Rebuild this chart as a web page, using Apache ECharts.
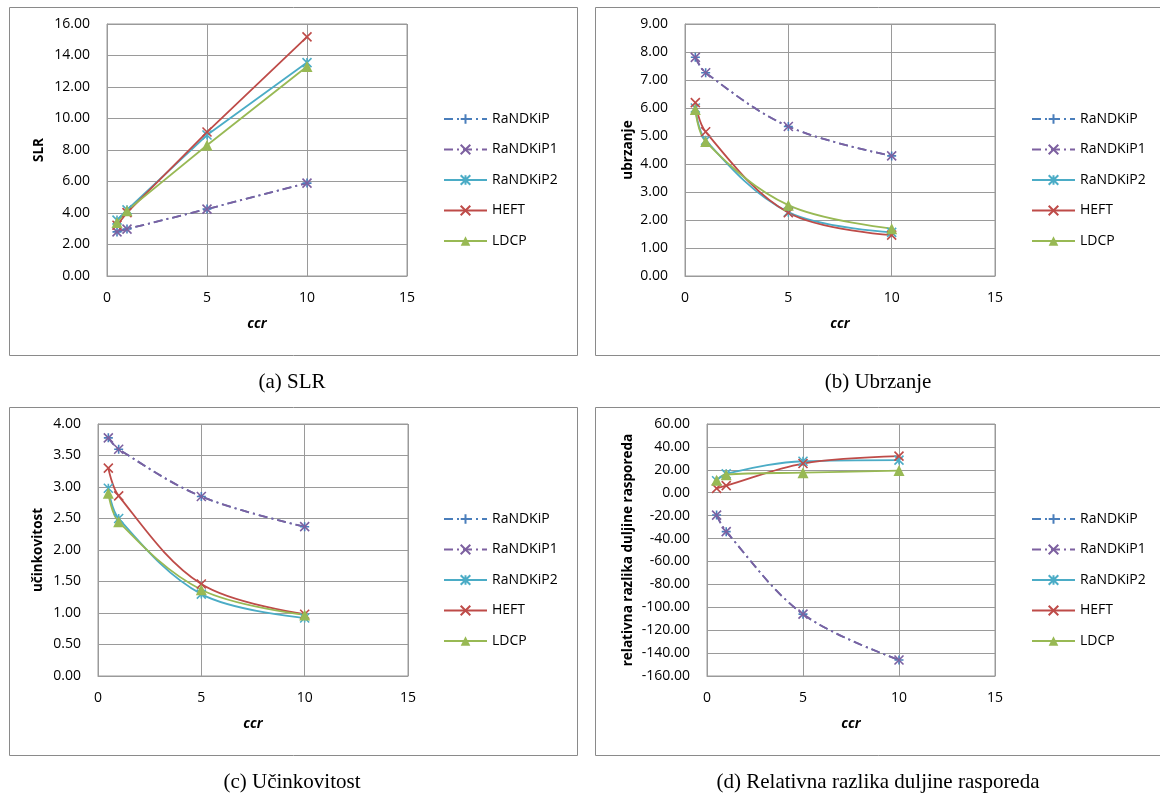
<!DOCTYPE html>
<html><head><meta charset="utf-8">
<script src="https://cdn.jsdelivr.net/npm/echarts@6/dist/echarts.min.js"></script>
<style>html,body{margin:0;padding:0;background:#fff}#c{width:1160px;height:801px}</style>
</head><body><div id="c"></div>
<script>
// ---- data ----
const ccr = [0.5, 1, 5, 10];
const seriesNames = ['RaNDKiP', 'RaNDKiP1', 'RaNDKiP2', 'HEFT', 'LDCP'];

// (a) SLR
const slrRaNDKiP  = [2.80, 2.98, 4.25, 5.90];
const slrRaNDKiP1 = [2.80, 2.98, 4.25, 5.90];
const slrRaNDKiP2 = [3.55, 4.20, 8.95, 13.55];
const slrHEFT     = [3.22, 4.02, 9.14, 15.18];
const slrLDCP     = [3.40, 4.15, 8.30, 13.30];

// (b) Ubrzanje
const ubRaNDKiP  = [7.81, 7.26, 5.34, 4.29];
const ubRaNDKiP1 = [7.81, 7.26, 5.34, 4.29];
const ubRaNDKiP2 = [6.00, 4.85, 2.28, 1.56];
const ubHEFT     = [6.19, 5.15, 2.26, 1.46];
const ubLDCP     = [5.95, 4.80, 2.53, 1.69];

// (c) Ucinkovitost
const ucRaNDKiP  = [3.78, 3.60, 2.85, 2.37];
const ucRaNDKiP1 = [3.78, 3.60, 2.85, 2.37];
const ucRaNDKiP2 = [2.98, 2.50, 1.30, 0.92];
const ucHEFT     = [3.30, 2.86, 1.46, 0.98];
const ucLDCP     = [2.90, 2.45, 1.37, 0.97];

// (d) Relativna razlika duljine rasporeda
const rrRaNDKiP  = [-19.5, -34.0, -106.0, -146.0];
const rrRaNDKiP1 = [-19.5, -34.0, -106.0, -146.0];
const rrRaNDKiP2 = [10.5, 16.5, 27.5, 28.5];
const rrHEFT     = [3.8, 6.2, 25.5, 32.0];
const rrLDCP     = [11.0, 15.8, 17.5, 19.3];

const xTicks = [0, 5, 10, 15];
const yNames = ['SLR', 'ubrzanje', 'učinkovitost', 'relativna razlika duljine rasporeda'];
const captions = ['(a) SLR', '(b) Ubrzanje', '(c) Učinkovitost', '(d) Relativna razlika duljine rasporeda'];

// ---- styling / layout ----
const colors = ['#4A7EBB', '#7D60A0', '#4BACC6', '#BE4B48', '#98B954'];
const symbols = [
  'path://M5,0L5,10M0,5L10,5',
  'path://M0,0L10,10M10,0L0,10',
  'path://M0,0L10,10M10,0L0,10M5,0L5,10',
  'path://M0,0L10,10M10,0L0,10',
  'triangle'
];
const dashDot = [9, 4, 2, 4];
const panelData = [
  [slrRaNDKiP, slrRaNDKiP1, slrRaNDKiP2, slrHEFT, slrLDCP],
  [ubRaNDKiP, ubRaNDKiP1, ubRaNDKiP2, ubHEFT, ubLDCP],
  [ucRaNDKiP, ucRaNDKiP1, ucRaNDKiP2, ucHEFT, ucLDCP],
  [rrRaNDKiP, rrRaNDKiP1, rrRaNDKiP2, rrHEFT, rrLDCP]
];
const grids = [
  {left: 107, top: 24, width: 300, height: 252},
  {left: 685, top: 24, width: 310, height: 252},
  {left: 98,  top: 424, width: 310, height: 252},
  {left: 707, top: 424, width: 288, height: 252}
];
const yRanges = [[0, 16, 2], [0, 9, 1], [0, 4, 0.5], [-160, 60, 20]];
const yNameGaps = [61, 50, 53, 72];
const legendPos = [[443, 112], [1031, 112], [443, 512], [1031, 512]];
const panels = [[7, 5], [593, 5], [7, 405], [593, 405]];
const smoothPanels = [false, true, true, true];

const font = '"Open Sans", "Noto Sans", sans-serif';
const gridColor = '#9a9a9a';

const option = {
  animation: false,
  backgroundColor: '#fff',
  grid: grids.map(g => Object.assign({show: true, borderColor: gridColor, borderWidth: 1, backgroundColor: 'transparent'}, g)),
  xAxis: grids.map((g, i) => ({
    type: 'value', gridIndex: i, min: 0, max: 15, interval: 5,
    name: 'ccr', nameLocation: 'middle', nameGap: 41,
    nameTextStyle: {fontFamily: font, fontWeight: 'bold', fontStyle: 'italic', fontSize: 14, color: '#000'},
    axisLine: {show: true, onZero: false, lineStyle: {color: gridColor}},
    axisTick: {show: false},
    axisLabel: {fontFamily: font, fontSize: 14, color: '#000', margin: 15},
    splitLine: {show: true, lineStyle: {color: gridColor, width: 1}}
  })),
  yAxis: grids.map((g, i) => ({
    type: 'value', gridIndex: i, min: yRanges[i][0], max: yRanges[i][1], interval: yRanges[i][2],
    name: yNames[i], nameLocation: 'middle', nameGap: yNameGaps[i], nameRotate: 90,
    nameTextStyle: {fontFamily: font, fontWeight: 'bold', fontSize: 13.5, color: '#000'},
    axisLine: {show: true, lineStyle: {color: gridColor}},
    axisTick: {show: false},
    axisLabel: {fontFamily: font, fontSize: 14, color: '#000', margin: 17, formatter: v => v.toFixed(2)},
    splitLine: {show: true, lineStyle: {color: gridColor, width: 1}}
  })),
  legend: legendPos.map((p, i) => ({
    orient: 'vertical', left: p[0], top: p[1], padding: 0,
    data: seriesNames.map(n => n + '\u200b'.repeat(i)),
    formatter: n => n.replace(/\u200b/g, ''),
    itemWidth: 43, itemHeight: 12, itemGap: 16.5,
    textStyle: {fontFamily: font, fontSize: 14, color: '#000'},
    selectedMode: false
  })),
  series: [],
  graphic: []
};

panelData.forEach((arrs, pi) => {
  arrs.forEach((vals, si) => {
    const c = colors[si];
    option.series.push({
      type: 'line',
      name: seriesNames[si] + '\u200b'.repeat(pi),
      xAxisIndex: pi, yAxisIndex: pi,
      data: ccr.map((x, k) => [x, vals[k]]),
      smooth: smoothPanels[pi] ? 0.35 : false,
      color: c,
      symbol: symbols[si],
      symbolSize: si === 4 ? 11 : 9,
      lineStyle: {color: c, width: 1.8, type: si < 2 ? dashDot : 'solid'},
      itemStyle: {color: c, borderColor: c, borderWidth: si === 4 ? 0 : 1.6},
      emphasis: {disabled: true},
      silent: true
    });
  });
});

panels.forEach((p, i) => {
  option.graphic.push({
    type: 'rect', left: p[0], top: p[1], silent: true,
    shape: {width: 568, height: 348},
    style: {fill: 'none', stroke: '#8a8a8a', lineWidth: 1}
  });
  option.graphic.push({
    type: 'text', silent: true,
    x: p[0] + 285, y: p[1] + 377,
    style: {text: captions[i], fill: '#000', font: '21px "Liberation Serif", "DejaVu Serif", serif', textAlign: 'center', textVerticalAlign: 'middle'}
  });
});

const chart = echarts.init(document.getElementById('c'), null, {renderer: 'canvas'});
chart.setOption(option);
</script>
</body></html>
